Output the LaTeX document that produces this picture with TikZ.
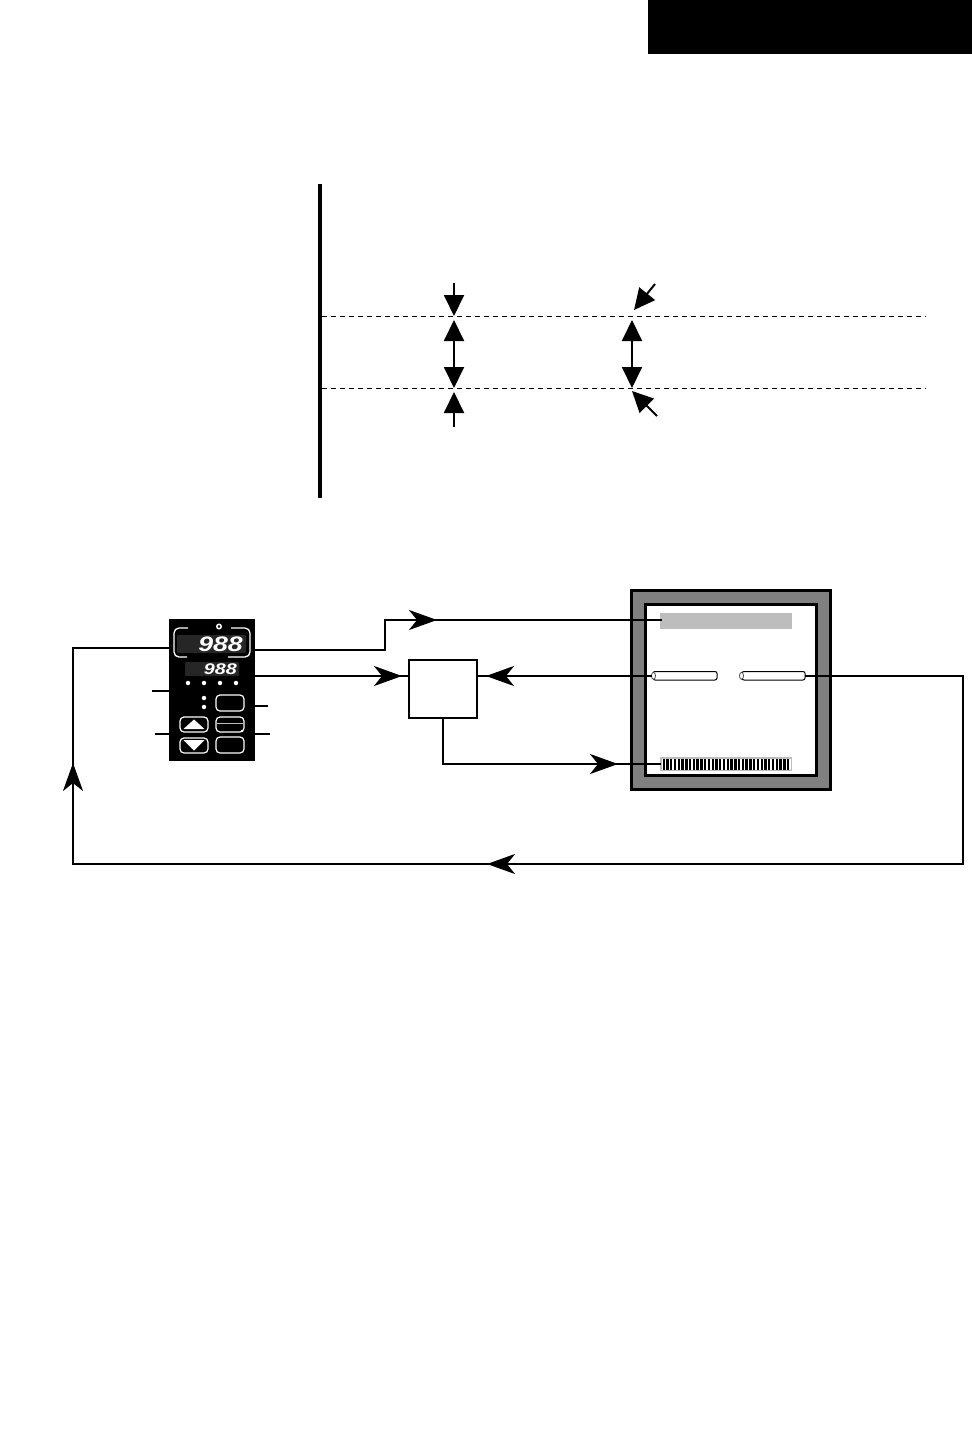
\documentclass[tikz,border=0pt]{standalone}
\usepackage{fontspec}
\setmainfont{Liberation Sans}
\usetikzlibrary{arrows.meta}
\definecolor{wallgray}{HTML}{808080}
\definecolor{bargray}{HTML}{BDBDBD}
\definecolor{dispgray}{HTML}{262626}
\tikzset{
  x=1pt,y=-1pt,
  conn/.style={line width=2pt,line join=miter},
  flow/.style={conn,-{Stealth[length=28pt,width=20pt,inset=8pt]}},
  dim/.style={line width=2pt,-{Triangle[length=21pt,width=20pt]}},
  dimboth/.style={line width=2pt,{Triangle[length=21pt,width=20pt]}-{Triangle[length=21pt,width=20pt]}},
  level/.style={line width=1pt,dash pattern=on 5pt off 4pt},
  btn/.style={draw=white,line width=1.2pt,rounded corners=4pt},
  stub/.style={line width=1.6pt},
  led/.style={circle,fill=white,inner sep=0pt,minimum size=4.5pt},
  digits/.style={text=white,inner sep=0pt,anchor=east,xscale=1.27},
  tube/.style={draw=black,fill=white,line width=1pt,rounded corners=2pt},
  bezel/.style={white,line width=1.3pt,rounded corners=5pt},
}
\begin{document}
\begin{tikzpicture}
\useasboundingbox (0,0) rectangle (972,1454);
% header
\fill[black] (648,0) rectangle (972,54);
% upper chart
\draw[line width=4pt] (320,184) -- (320,498);
\coordinate (lvlAl) at (322,316); \coordinate (lvlAr) at (926,316);
\coordinate (lvlBl) at (322,388); \coordinate (lvlBr) at (926,388);
\draw[level] (lvlAl) -- (lvlAr);
\draw[level] (lvlBl) -- (lvlBr);
\coordinate (a1s) at (454,283); \coordinate (a1e) at (454,316);
\coordinate (a2s) at (454,320); \coordinate (a2e) at (454,388);
\coordinate (a3s) at (454,427); \coordinate (a3e) at (454,392);
\coordinate (b1s) at (655,284); \coordinate (b1e) at (634,310);
\coordinate (b2s) at (632,320); \coordinate (b2e) at (632,388);
\coordinate (b3s) at (657,416); \coordinate (b3e) at (632,391);
\draw[dim] (a1s) -- (a1e);
\draw[dimboth] (a2s) -- (a2e);
\draw[dim] (a3s) -- (a3e);
\draw[dim] (b1s) -- (b1e);
\draw[dimboth] (b2s) -- (b2e);
\draw[dim] (b3s) -- (b3e);
% controller
\node[fill=black,inner sep=0pt,minimum width=86pt,minimum height=142pt] (ctrl) at (212,690) {};
\fill[dispgray,rounded corners=1pt] (177,635) rectangle (246,653);
\fill[dispgray,rounded corners=1pt] (185,662) rectangle (239,676);
\node[digits,font=\itshape\bfseries\fontsize{21}{21}\selectfont] (pv) at (243,644) {988};
\node[digits,font=\itshape\bfseries\fontsize{15.5}{15.5}\selectfont] (sv) at (237,669) {988};
\draw[bezel] (188,628) -- (174,628) -- (174,657) -- (187,657);
\draw[bezel] (231,628) -- (250,628) -- (250,657) -- (228,657);
\draw[white,line width=1.5pt] (219,626.5) circle (2.2pt);
\foreach \xx in {188,204,220,236} \node[led] at (\xx,683) {};
\node[led] at (204,698) {};
\node[led] at (204,707) {};
\draw[btn] (216,695) rectangle (244,711);
\draw[btn] (216,717) rectangle (244,732);
\draw[bargray,line width=1pt] (216,723) -- (244,723);
\fill[white] (242,731) circle (1.3pt);
\draw[btn] (216,737) rectangle (244,753);
\draw[btn] (180,717) rectangle (208,732);
\draw[btn] (180,738) rectangle (208,753);
\fill[white] (183.5,729) -- (194,719.5) -- (204.5,729) -- cycle;
\fill[white] (183.5,740) -- (204.5,740) -- (194,750.5) -- cycle;
% controller stubs
\coordinate (st1a) at (152,691); \coordinate (st1b) at (169,691);
\coordinate (st2a) at (155,734); \coordinate (st2b) at (169,734);
\coordinate (st3a) at (255,706); \coordinate (st3b) at (268,706);
\coordinate (st4a) at (255,734); \coordinate (st4b) at (270,734);
\draw[stub] (st1a) -- (st1b);
\draw[stub] (st2a) -- (st2b);
\draw[stub] (st3a) -- (st3b);
\draw[stub] (st4a) -- (st4b);
% box
\node[draw=black,line width=2pt,fill=white,minimum width=68pt,minimum height=58pt,inner sep=0pt] (box) at (443,689) {};
% enclosure
\node[draw=black,line width=3pt,fill=wallgray,minimum width=199pt,minimum height=199pt,inner sep=0pt] (outer) at (731,690) {};
\node[draw=black,line width=3pt,fill=white,minimum width=171pt,minimum height=171pt,inner sep=0pt] (inner) at (731,690) {};
\node[fill=bargray,minimum width=132pt,minimum height=16pt,inner sep=0pt] (heater) at (726,621) {};
\node[fill=bargray,minimum width=132pt,minimum height=14pt,inner sep=0pt] (cooler) at (726,764) {};
\fill[white] (661.5,758.5) rectangle (790.5,769.5);
\foreach \i in {0,...,33} \fill[black] ({662.5+\i*3.77},759) rectangle ({664.9+\i*3.77},769.5);
\draw[tube] (653,671.5) rectangle (717,680);
\draw[black!70,fill=white,line width=.8pt] (653.5,675.8) ellipse (2pt and 3.5pt);
\draw[tube] (742,671.5) rectangle (805,680);
\draw[black!70,fill=white,line width=.8pt] (741.5,675.8) ellipse (2pt and 3.5pt);
% connectors: plain runs first, arrowheads on top
\coordinate (c1) at (255,650); \coordinate (c1a) at (385,650); \coordinate (c1b) at (385,620);
\coordinate (c1m) at (437,620); \coordinate (c1e) at (662,620);
\draw[conn] (c1) -- (c1a) -- (c1b) -- (c1e);
\draw[flow] (c1b) -- (c1m);
\coordinate (c2) at (255,676); \coordinate (c2m) at (402,676);
\draw[conn] (c2) -- (box.west |- c2);
\draw[flow] (c2) -- (c2m);
\coordinate (c3) at (652,676); \coordinate (c3m) at (486,676);
\draw[conn] (c3) -- (box.east |- c3);
\draw[flow] (c3) -- (c3m);
\coordinate (c4) at (443,718); \coordinate (c4a) at (443,764); \coordinate (c4m) at (618,764); \coordinate (c4e) at (661,764);
\draw[conn] (c4) -- (c4a) -- (c4e);
\draw[flow] (c4a) -- (c4m);
\coordinate (c5) at (805,676); \coordinate (c5a) at (963,676); \coordinate (c5b) at (963,864);
\coordinate (c5m) at (487,864); \coordinate (c5c) at (73,864); \coordinate (c5n) at (73,763);
\coordinate (c5d) at (73,648); \coordinate (c5e) at (169,648);
\draw[conn] (c5) -- (c5a) -- (c5b) -- (c5c) -- (c5d) -- (c5e);
\draw[flow] (c5b) -- (c5m);
\draw[flow] (c5c) -- (c5n);
\end{tikzpicture}
\end{document}
